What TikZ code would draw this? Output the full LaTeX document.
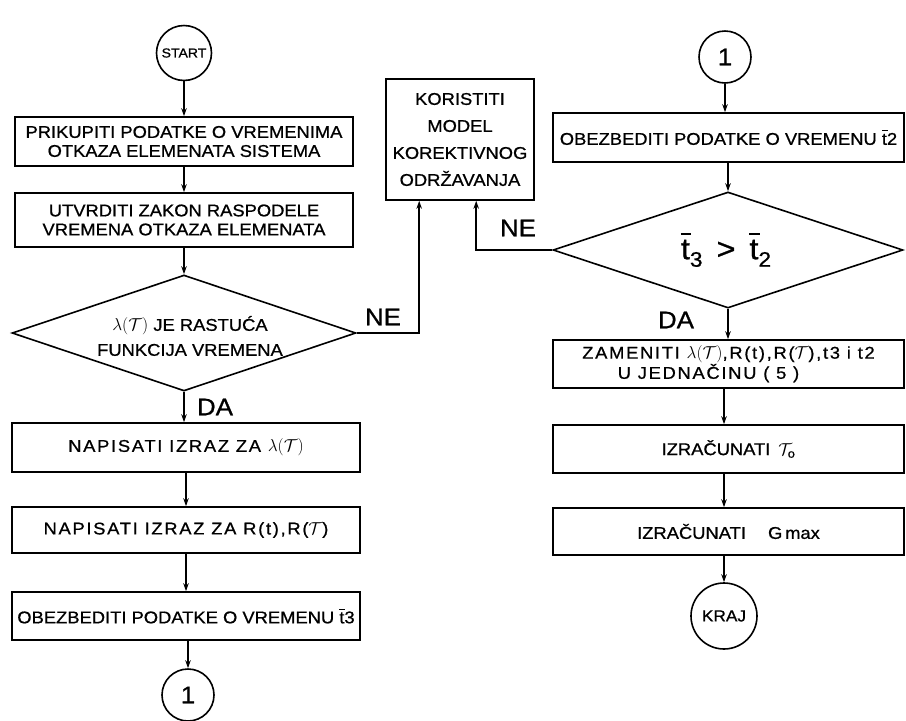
\documentclass[tikz,border=0pt]{standalone}
\usepackage{amsmath}
\usepackage{fontspec}
\setmainfont{Liberation Sans}[FakeStretch=1.08,FakeBold=0.8]
\newfontfamily\spaced{Liberation Sans}[FakeStretch=1.08,FakeBold=0.8,LetterSpace=10]
\usetikzlibrary{arrows.meta,shapes.geometric,calc}
\newcommand\tbar{\leavevmode\makebox[0pt][l]{\raisebox{.8em}{\rule{.34em}{.07em}}}t}
\newcommand\lamT{\ensuremath{\lambda(\mathcal{T})}}
\newcommand\calT{\ensuremath{\mathcal{T}}}
\begin{document}
\begin{tikzpicture}[x=1pt,y=-1pt,line width=1.6pt,
  txt/.style={font=\fontsize{17}{19}\selectfont,align=center},
  box/.style={draw,rectangle,inner sep=0pt,txt},
  term/.style={draw,circle,inner sep=0pt},
  dec/.style={draw,diamond,inner sep=0pt},
  arr/.style={-{Stealth[length=8pt,width=5.5pt]}},
  lbl/.style={font=\fontsize{24}{26}\selectfont}]
\useasboundingbox (0,0) rectangle (906,721);
% left column
\node[term,minimum size=55pt,font=\fontsize{13}{13}\selectfont] (start) at (184,53) {START};
\node[box,minimum width=338pt,minimum height=49pt] (b1) at (184,141.5) {PRIKUPITI PODATKE O VREMENIMA\\OTKAZA ELEMENATA SISTEMA};
\node[box,minimum width=338pt,minimum height=54pt] (b2) at (184,220) {UTVRDITI ZAKON RASPODELE\\VREMENA OTKAZA ELEMENATA};
\node[dec,minimum width=344pt,minimum height=116pt] (d1) at (184,333) {};
\node[txt,font=\fontsize{17}{25}\selectfont] (d1t) at (190,336) {\lamT{} JE RASTUĆA\\FUNKCIJA VREMENA};
\node[box,minimum width=348pt,minimum height=49pt,font=\spaced\fontsize{17}{19}\selectfont] (b3) at (186,447.5) {NAPISATI IZRAZ ZA \lamT};
\node[box,minimum width=348pt,minimum height=46pt,font=\spaced\fontsize{17}{19}\selectfont] (b4) at (186,530) {NAPISATI IZRAZ ZA R(t),R(\calT)};
\node[box,minimum width=348pt,minimum height=48pt] (b5) at (186,616) {OBEZBEDITI PODATKE O VREMENU \tbar3};
\node[term,minimum size=52pt,font=\fontsize{24}{24}\selectfont] (c1l) at (188,695) {1};
% middle box
\node[box,minimum width=148pt,minimum height=121pt,font=\fontsize{17}{27}\selectfont] (kor) at (460,139.5) {KORISTITI\\MODEL\\KOREKTIVNOG\\ODRŽAVANJA};
\coordinate (k1) at ($(kor.south west)+(34,0)$);
\coordinate (k2) at ($(kor.south west)+(91,0)$);
% right column
\node[term,minimum size=52pt,font=\fontsize{24}{24}\selectfont] (c1r) at (725,57) {1};
\node[box,minimum width=351pt,minimum height=49pt] (r1) at (728.5,137.5) {OBEZBEDITI PODATKE O VREMENU \tbar2};
\node[dec,minimum width=350pt,minimum height=116pt] (d2) at (728,250) {};
\node[font=\fontsize{30}{30}\selectfont] (d2t) at (726,250) {\tbar\raisebox{-.25em}{\fontsize{21}{21}\selectfont 3}\hspace{14pt}>\hspace{14pt}\tbar\raisebox{-.25em}{\fontsize{21}{21}\selectfont 2}};
\node[box,minimum width=351pt,minimum height=48pt,font=\spaced\fontsize{17}{21}\selectfont] (r2) at (728.5,364) {\raisebox{-3pt}{ZAMENITI \lamT,R(t),R(\calT),t3 i t2}\\U JEDNAČINU ( 5 )\kern40pt};
\node[box,minimum width=351pt,minimum height=48pt] (r3) at (728.5,449) {\raisebox{-4pt}{IZRAČUNATI \,$\mathcal{T}_{\text{o}}$}};
\node[box,minimum width=351pt,minimum height=47pt] (r4) at (728.5,531.5) {IZRAČUNATI \quad G\,max};
\node[term,minimum size=66pt,font=\fontsize{16}{16}\selectfont] (kraj) at (724,616) {KRAJ};
% connectors left
\draw[arr] (start) -- (b1);
\draw[arr] (b1) -- (b2);
\draw[arr] (b2) -- (d1);
\draw[arr] (d1.south) -- (d1.south |- b3.north);
\draw[arr] (b3) -- (b4);
\draw[arr] (b4) -- (b5);
\draw[arr] (c1l.north |- b5.south) -- (c1l.north);
\draw[arr] (d1.east) -| (k1);
\draw[arr] (d2.west) -| (k2);
% connectors right
\draw[arr] (c1r.south) -- (c1r.south |- r1.north);
\draw[arr] (d2.north |- r1.south) -- (d2.north);
\draw[arr] (d2.south) -- (d2.south |- r2.north);
\draw[arr] (r2.south -| kraj) -- (r3.north -| kraj);
\draw[arr] (r3.south -| kraj) -- (r4.north -| kraj);
\draw[arr] (r4.south -| kraj) -- (kraj.north);
% labels
\node[lbl] (ne1) at (383,317) {NE};
\node[lbl] (da1) at (215,407) {DA};
\node[lbl] (ne2) at (518,228) {NE};
\node[lbl] (da2) at (676,320) {DA};
\end{tikzpicture}
\end{document}
